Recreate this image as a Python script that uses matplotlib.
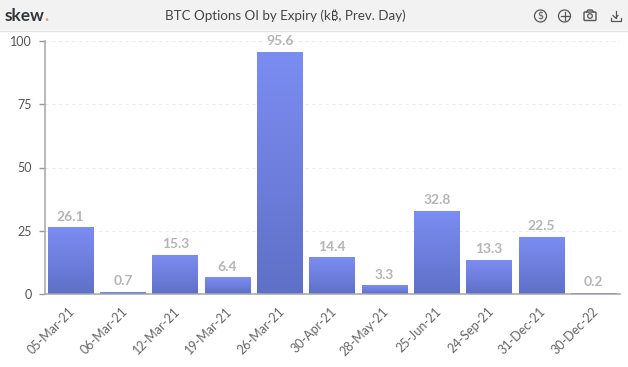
"""BTC options open interest by expiry, skew. style bar chart."""
import matplotlib; matplotlib.use("Agg")
import matplotlib.pyplot as plt
import numpy as np
from matplotlib.colors import LinearSegmentedColormap
from matplotlib.patches import Circle, Rectangle, FancyBboxPatch
from matplotlib.transforms import ScaledTranslation

expiries = ["05-Mar-21", "06-Mar-21", "12-Mar-21", "19-Mar-21", "26-Mar-21", "30-Apr-21",
            "28-May-21", "25-Jun-21", "24-Sep-21", "31-Dec-21", "30-Dec-22"]
oi_values = [26.1, 0.7, 15.3, 6.4, 95.6, 14.4, 3.3, 32.8, 13.3, 22.5, 0.2]
y_ticks = [0, 25, 50, 75, 100]

W, H = 628, 367
plt.rcParams["font.family"] = ["Lato", "Noto Sans", "Inter", "Roboto", "Open Sans", "Liberation Sans", "DejaVu Sans"]
fig = plt.figure(figsize=(W / 100, H / 100), dpi=100, facecolor="white")

# header band + icons live on a pixel-coordinate overlay
bg = fig.add_axes([0, 0, 1, 1], zorder=0)
bg.set_xlim(0, W); bg.set_ylim(H, 0); bg.axis("off")
bg.add_patch(Rectangle((0, 0), W, 30, fc="#f2f2f2", ec="none"))
bg.plot([0, W], [30.5, 30.5], color="#e2e2e2", lw=1)
bg.text(5, 16, "skew", fontsize=12.4, fontweight="bold", color="#33363b", va="center", ha="left")
bg.text(44, 16, ".", fontsize=12.4, fontweight="bold", color="#e0a45e", va="center", ha="left")
bg.text(285, 15.5, "BTC Options OI by Expiry (k₿, Prev. Day)", fontsize=9.6, color="#444444",
        va="center", ha="center")

ic = "#555555"
bg.add_patch(Circle((540.5, 16), 6, fc="none", ec=ic, lw=0.9))
bg.text(540.5, 16, "$", fontsize=7, color=ic, ha="center", va="center", family="DejaVu Sans", parse_math=False)
bg.add_patch(Circle((564.5, 16), 6, fc="none", ec=ic, lw=0.9))
bg.plot([560.5, 568.5], [16, 16], color=ic, lw=0.9)
bg.plot([564.5, 564.5], [12, 20], color=ic, lw=0.9)
bg.add_patch(FancyBboxPatch((584, 12), 12, 8.5, boxstyle="round,pad=0,rounding_size=1", fc="none", ec=ic, lw=1))
bg.plot([586.5, 588, 592, 593.5], [12, 10, 10, 12], color=ic, lw=1)
bg.add_patch(Circle((590, 16), 2.3, fc="none", ec=ic, lw=0.9))
bg.plot([615.5, 615.5], [10.5, 18], color=ic, lw=0.9)
bg.plot([613, 615.5, 618], [15.5, 18, 15.5], color=ic, lw=0.9)
bg.plot([610.5, 610.5, 620.5, 620.5], [18, 20.5, 20.5, 18], color=ic, lw=0.9)

ax = fig.add_axes([44.5 / W, 1 - 294 / H, (620 - 44.5) / W, (294 - 41) / H], zorder=1)
ax.patch.set_alpha(0)
x = np.arange(len(expiries))
bars = ax.bar(x, oi_values, width=0.875, color="none", zorder=2)
cmap = LinearSegmentedColormap.from_list("bar", ["#7c8df2", "#5f70c8"])
grad = np.linspace(0, 1, 256)[:, None]
for b, v, xi in zip(bars, oi_values, x):
    ax.imshow(grad, cmap=cmap, aspect="auto", zorder=2, origin="upper",
              extent=[b.get_x(), b.get_x() + b.get_width(), 0, v])
    ax.text(xi, v + 2, f"{v}", ha="center", va="bottom", fontsize=10, fontweight="bold", color="#b5b5b5")

ax.set_xlim(-0.5, len(expiries) - 0.5); ax.set_ylim(0, 100)
ax.set_yticks(y_ticks)
ax.set_xticks(x, expiries, rotation=45, ha="right", rotation_mode="anchor")
ax.tick_params(axis="y", length=4, width=1, color="#999999", labelsize=9, labelcolor="#555555", pad=5)
ax.tick_params(axis="x", length=0, labelsize=9, labelcolor="#666666", pad=8)
shift = ScaledTranslation(-2 / 100, 0, fig.dpi_scale_trans)
for lb in ax.get_xticklabels():
    lb.set_transform(lb.get_transform() + shift)
ax.grid(axis="y", color="#ececec", lw=0.8, ls=(0, (3, 3)), zorder=0)
ax.set_axisbelow(True)
for s in ("top", "right"):
    ax.spines[s].set_visible(False)
for s in ("left", "bottom"):
    ax.spines[s].set_color("#a5a5a5")
    ax.spines[s].set_linewidth(1.1)
fig.savefig("out.png", dpi=100)
